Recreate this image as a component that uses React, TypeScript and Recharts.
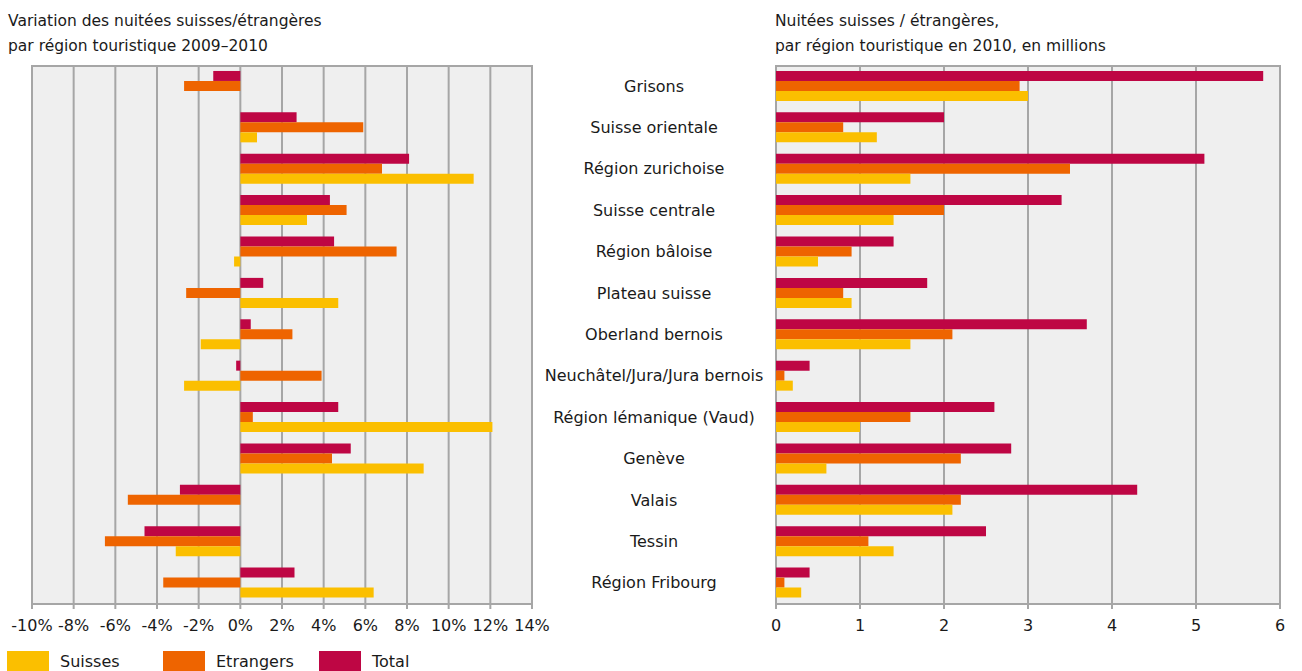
import React from 'react'
import {
    BarChart,
    Bar,
    XAxis,
    YAxis,
    CartesianGrid,
    ReferenceArea
} from 'recharts'

const regions = [
    'Grisons',
    'Suisse orientale',
    'Région zurichoise',
    'Suisse centrale',
    'Région bâloise',
    'Plateau suisse',
    'Oberland bernois',
    'Neuchâtel/Jura/Jura bernois',
    'Région lémanique (Vaud)',
    'Genève',
    'Valais',
    'Tessin',
    'Région Fribourg'
]

// variation 2009–2010, en %
const variationSuisses = [0, 0.8, 11.2, 3.2, -0.3, 4.7, -1.9, -2.7, 12.1, 8.8, 0, -3.1, 6.4]
const variationEtrangers = [-2.7, 5.9, 6.8, 5.1, 7.5, -2.6, 2.5, 3.9, 0.6, 4.4, -5.4, -6.5, -3.7]
const variationTotal = [-1.3, 2.7, 8.1, 4.3, 4.5, 1.1, 0.5, -0.2, 4.7, 5.3, -2.9, -4.6, 2.6]

// nuitées 2010, en millions
const nuiteesSuisses = [3.0, 1.2, 1.6, 1.4, 0.5, 0.9, 1.6, 0.2, 1.0, 0.6, 2.1, 1.4, 0.3]
const nuiteesEtrangers = [2.9, 0.8, 3.5, 2.0, 0.9, 0.8, 2.1, 0.1, 1.6, 2.2, 2.2, 1.1, 0.1]
const nuiteesTotal = [5.8, 2.0, 5.1, 3.4, 1.4, 1.8, 3.7, 0.4, 2.6, 2.8, 4.3, 2.5, 0.4]

const variationTicks = [-10, -8, -6, -4, -2, 0, 2, 4, 6, 8, 10, 12, 14]
const nuiteesTicks = [0, 1, 2, 3, 4, 5, 6]

const legendItems = ['Suisses', 'Etrangers', 'Total']

const COLORS = { suisses: '#FBBF00', etrangers: '#EE6400', total: '#BE0644' }
const GRID = '#A6A6A6'
const FONT = '"DejaVu Sans", sans-serif'
const TEXT = '#1a1a1a'

const variationData = regions.map((r, i) => ({
    region: r,
    suisses: variationSuisses[i],
    etrangers: variationEtrangers[i],
    total: variationTotal[i]
}))

const nuiteesData = regions.map((r, i) => ({
    region: r,
    suisses: nuiteesSuisses[i],
    etrangers: nuiteesEtrangers[i],
    total: nuiteesTotal[i]
}))

const tickStyle = { fill: TEXT, fontSize: 16, fontFamily: FONT }

function RegionTick(props: any) {
    const { x, y, payload } = props
    return (
        <text x={x - 114} y={y} dy={5} textAnchor="middle" fill={TEXT} fontSize={16} fontFamily={FONT}>
            {payload.value}
        </text>
    )
}

function Title({ left, lines }: { left: number; lines: string[] }) {
    return (
        <div style={{ position: 'absolute', left, top: 9, fontFamily: FONT, fontSize: 15.5, lineHeight: '25px', color: TEXT }}>
            {lines.map((l) => (
                <div key={l}>{l}</div>
            ))}
        </div>
    )
}

export default function App() {
    const colorList = [COLORS.suisses, COLORS.etrangers, COLORS.total]
    return (
        <div style={{ position: 'absolute', left: 0, top: 0, width: 1302, height: 671, background: '#fff', overflow: 'hidden' }}>
            <Title left={8} lines={['Variation des nuitées suisses/étrangères', 'par région touristique 2009–2010']} />
            <Title left={775} lines={['Nuitées suisses / étrangères,', 'par région touristique en 2010, en millions']} />

            <div style={{ position: 'absolute', left: 0, top: 0 }}>
                <BarChart
                    width={560}
                    height={671}
                    data={variationData}
                    layout="vertical"
                    margin={{ top: 66, right: 28, left: 32, bottom: 27 }}
                    barCategoryGap="12%"
                    barGap={0}
                >
                    <CartesianGrid horizontal={false} fill="#EFEFEF" stroke={GRID} strokeWidth={2} />
                    <XAxis
                        type="number"
                        domain={[-10, 14]}
                        ticks={variationTicks}
                        tickFormatter={(v) => `${v}%`}
                        height={40}
                        tick={tickStyle}
                        tickSize={5}
                        tickMargin={11}
                        axisLine={{ stroke: GRID, strokeWidth: 2 }}
                        tickLine={{ stroke: GRID, strokeWidth: 2 }}
                        interval={0}
                    />
                    <YAxis type="category" dataKey="region" hide />
                    <ReferenceArea x1={-10} x2={14} fill="none" stroke={GRID} strokeWidth={2} ifOverflow="visible" />
                    <Bar dataKey="total" fill={COLORS.total} isAnimationActive={false} />
                    <Bar dataKey="etrangers" fill={COLORS.etrangers} isAnimationActive={false} />
                    <Bar dataKey="suisses" fill={COLORS.suisses} isAnimationActive={false} />
                </BarChart>
            </div>

            <div style={{ position: 'absolute', left: 540, top: 0 }}>
                <BarChart
                    width={762}
                    height={671}
                    data={nuiteesData}
                    layout="vertical"
                    margin={{ top: 66, right: 22, left: 0, bottom: 27 }}
                    barCategoryGap="12%"
                    barGap={0}
                >
                    <CartesianGrid horizontal={false} fill="#EFEFEF" stroke={GRID} strokeWidth={2} />
                    <XAxis
                        type="number"
                        domain={[0, 6]}
                        ticks={nuiteesTicks}
                        height={40}
                        tick={tickStyle}
                        tickSize={5}
                        tickMargin={11}
                        axisLine={{ stroke: GRID, strokeWidth: 2 }}
                        tickLine={{ stroke: GRID, strokeWidth: 2 }}
                        interval={0}
                    />
                    <YAxis
                        type="category"
                        dataKey="region"
                        width={236}
                        tick={<RegionTick />}
                        tickLine={false}
                        axisLine={false}
                        interval={0}
                    />
                    <ReferenceArea x1={0} x2={6} fill="none" stroke={GRID} strokeWidth={2} ifOverflow="visible" />
                    <Bar dataKey="total" fill={COLORS.total} isAnimationActive={false} />
                    <Bar dataKey="etrangers" fill={COLORS.etrangers} isAnimationActive={false} />
                    <Bar dataKey="suisses" fill={COLORS.suisses} isAnimationActive={false} />
                </BarChart>
            </div>

            <div style={{ position: 'absolute', left: 7, top: 651, display: 'flex', fontFamily: FONT, fontSize: 16, color: TEXT }}>
                {legendItems.map((name, i) => (
                    <div key={name} style={{ display: 'flex', alignItems: 'flex-start', width: 156 }}>
                        <div style={{ width: 42, height: 22, background: colorList[i] }} />
                        <div style={{ marginLeft: 11, lineHeight: '22px' }}>{name}</div>
                    </div>
                ))}
            </div>
        </div>
    )
}
